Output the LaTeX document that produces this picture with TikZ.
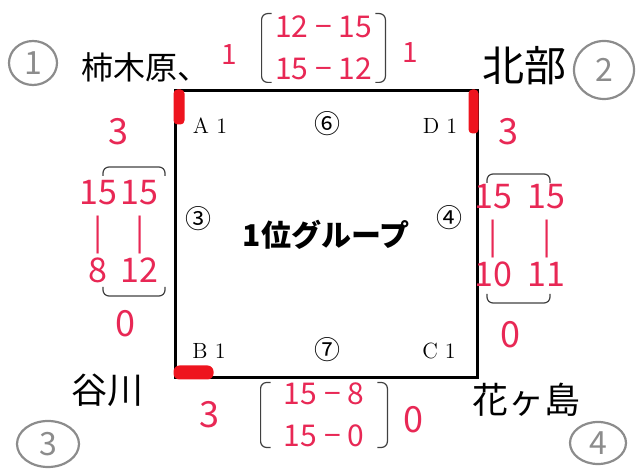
\documentclass[tikz,border=0pt]{standalone}
\usepackage{fontspec}
\newfontfamily\jp{Noto Sans CJK JP}
\usetikzlibrary{positioning,shapes.geometric}
\definecolor{pen}{RGB}{232,40,85}
\definecolor{marker}{RGB}{238,20,30}
\definecolor{pencil}{RGB}{140,140,140}

\begin{document}
\begin{tikzpicture}[x=0.5pt, y=-0.5pt,
    slot/.style={font=\fontsize{11}{13}\selectfont},
    gamenum/.style={font=\jp\fontsize{13}{15}\selectfont},
    school/.style={font=\jp\fontsize{#1}{#1}\selectfont},
    rank/.style={ellipse, draw=pencil, line width=1.1pt, text=pencil, inner sep=0pt, font=\jp\fontsize{16}{16}\selectfont},
    pts/.style={text=pen, font=\jp\fontsize{18}{20}\selectfont},
    score/.style={text=pen, align=center, inner sep=0pt, font=\jp\fontsize{15}{21}\selectfont},
    cols/.style={text=pen, inner sep=0pt, font=\jp\fontsize{17}{19}\selectfont},
    brk/.style={draw=black!75, line width=0.6pt, rounded corners=3pt},
    hilite/.style={fill=marker, rounded corners=2pt}]
    \useasboundingbox (0,0) rectangle (642,474);

    \node [draw, line width=1.5pt, inner sep=0pt, minimum width=151pt, minimum height=143.5pt, font=\jp\bfseries\fontsize{15}{17}\selectfont] (grp) at (326,234.5) {1位グループ};
    \fill [hilite] (grp.north west) rectangle ++(11,35);
    \fill [hilite] (grp.north east) rectangle ++(-10,44);
    \fill [hilite, rounded corners=3pt] (grp.south west) rectangle ++(40,-14);

    \node [slot] (a1) at (210,126) {A 1};
    \node [slot] (d1) at (440,126) {D 1};
    \node [slot] (b1) at (209,351) {B 1};
    \node [slot] (c1) at (439,351) {C 1};
    \node [gamenum] (g6) at (327,124) {⑥};
    \node [gamenum] (g3) at (198,219) {③};
    \node [gamenum] (g4) at (449,218) {④};
    \node [gamenum] (g7) at (327,350) {⑦};

    % handwritten names and ranks
    \node [school=16] (kaki) at (145,67) {柿木原、};
    \node [school=21] (hoku) at (524,66) {北部};
    \node [school=18] (tani) at (107,390) {谷川};
    \node [school=18] (hana) at (526,400) {花ヶ島};
    \node [rank, minimum width=24pt, minimum height=22pt] (r1) at (33,63) {1};
    \node [rank, minimum width=30pt, minimum height=29pt] (r2) at (604,70) {2};
    \node [rank, minimum width=31pt, minimum height=23pt] (r3) at (48,444) {3};
    \node [rank, minimum width=28pt, minimum height=21pt] (r4) at (598,443) {4};

    % top match
    \node [pts, font=\jp\fontsize{14}{16}\selectfont] (p1) at (229,55) {1};
    \node [pts, font=\jp\fontsize{14}{16}\selectfont] (p2) at (410,53) {1};
    \node [score, minimum width=61.5pt, minimum height=34pt] (tsc) at (323.5,48) {12 − 15\\15 − 12};
    \draw [brk] ([xshift=5pt]tsc.north west) -- (tsc.north west) -- (tsc.south west) -- ([xshift=5pt]tsc.south west);
    \draw [brk] ([xshift=-5pt]tsc.north east) -- (tsc.north east) -- (tsc.south east) -- ([xshift=-5pt]tsc.south east);

    % left match
    \node [pts] (p3) at (118,132) {3};
    \node [pts] (p4) at (125,324) {0};
    \node [cols] (lsc) at (119,236) {\begin{tabular}{@{}c@{\hspace{2pt}}c@{}}15&15\\|&|\\8&12\end{tabular}};
    \draw [brk] (103,176) -- (103,167) -- (165,167) -- (165,176);
    \draw [brk] (103,287) -- (103,296) -- (165,296) -- (165,287);

    % right match
    \node [pts] (p5) at (508,132) {3};
    \node [pts] (p6) at (510,335) {0};
    \node [cols] (rsc) at (520,240) {\begin{tabular}{@{}c@{\hspace{8pt}}c@{}}15&15\\|&|\\10&11\end{tabular}};
    \draw [brk] (487,183) -- (487,174) -- (550,174) -- (550,183);
    \draw [brk] (487,294) -- (487,303) -- (550,303) -- (550,294);

    % bottom match
    \node [pts] (p7) at (209,415) {3};
    \node [pts] (p8) at (413,420) {0};
    \node [score, minimum width=63pt, minimum height=32pt] (bsc) at (324,415) {15 − 8\\15 − 0};
    \draw [brk] ([xshift=5pt]bsc.north west) -- (bsc.north west) -- (bsc.south west) -- ([xshift=5pt]bsc.south west);
    \draw [brk] ([xshift=-5pt]bsc.north east) -- (bsc.north east) -- (bsc.south east) -- ([xshift=-5pt]bsc.south east);
\end{tikzpicture}
\end{document}
